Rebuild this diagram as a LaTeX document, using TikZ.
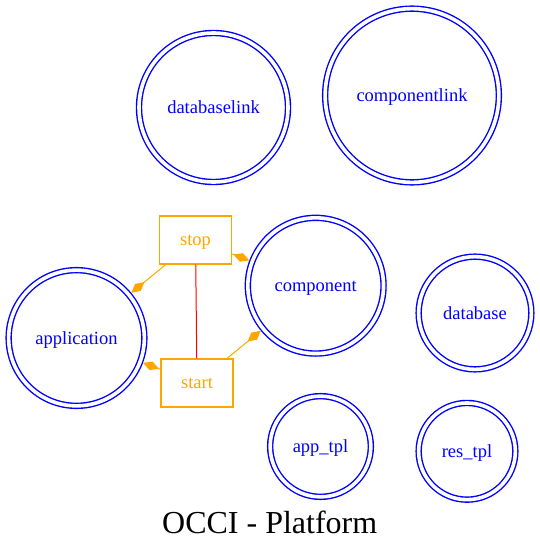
\documentclass[tikz,border=0pt]{standalone}
\usepackage{fontspec}
\setmainfont{Liberation Serif}
\usetikzlibrary{arrows.meta}
\definecolor{gvblue}{HTML}{0000FF}
\definecolor{gvorange}{HTML}{FFA500}
\definecolor{gvred}{HTML}{FF0000}
\tikzset{
  dcirc/.style={circle, draw=gvblue, line width=1.4pt, double=white, double distance=3.6pt,
    inner sep=0pt, outer sep=3.2pt, minimum size=#1, text=gvblue,
    font=\fontsize{18.5}{20}\selectfont, text height=15pt, text depth=2.6pt},
  actbox/.style={rectangle, draw=gvorange, line width=1.3pt, minimum width=72pt, minimum height=48pt,
    inner sep=0pt, text=gvorange, font=\fontsize{18.5}{20}\selectfont, text height=15pt, text depth=3.4pt},
  dlink/.style={draw=gvorange, line width=1pt, -{Diamond[length=17pt,width=9pt,fill=gvorange]}},
  plain/.style={draw=gvred, line width=1pt},
}
\begin{document}
\begin{tikzpicture}[x=1pt,y=-1pt]
\useasboundingbox (0,0) rectangle (540,551);
\node[dcirc=149pt] (databaselink) at (213.5,107.5) {databaselink};
\node[dcirc=173.7pt] (componentlink) at (412,95.5) {componentlink};
\node[dcirc=135.7pt] (component) at (315.7,285.7) {component};
\node[dcirc=135.7pt] (application) at (76.5,338) {application};
\node[dcirc=112.7pt] (database) at (475,313) {database};
\node[dcirc=100.7pt] (apptpl) at (320.5,446.5) {app\_tpl};
\node[dcirc=96.7pt] (restpl) at (467,451.3) {res\_tpl};
\node[actbox] (stop) at (195.5,240) {stop};
\node[actbox] (start) at (197,383) {start};
\draw[plain] (stop) -- (start);
\draw[dlink] (stop) -- (application);
\draw[dlink] (stop) -- (component);
\draw[dlink] (start) -- (application);
\draw[dlink] (start) -- (component);
\node[anchor=base, font=\fontsize{32}{36}\selectfont, inner sep=0pt] (title) at (269.7,533) {OCCI - Platform};
\end{tikzpicture}
\end{document}
